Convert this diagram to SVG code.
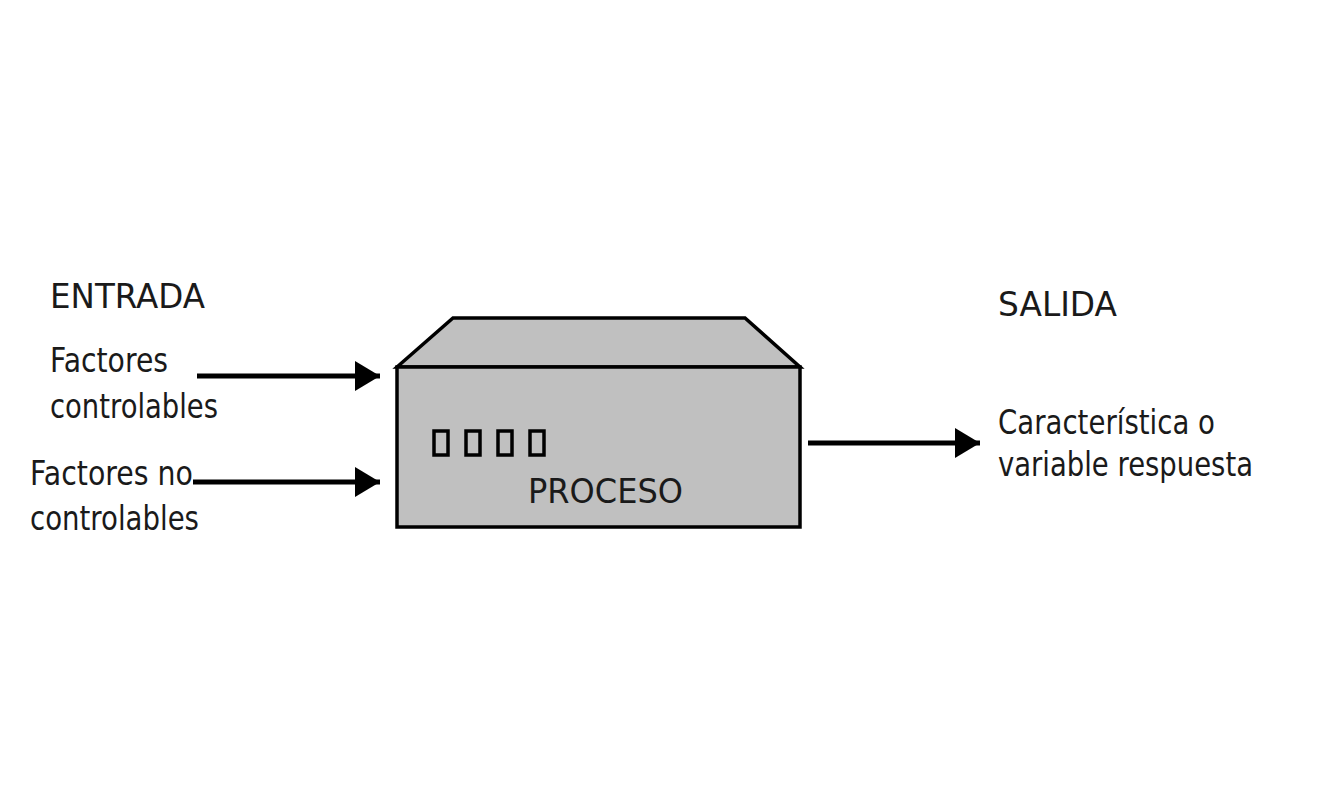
<svg xmlns="http://www.w3.org/2000/svg" width="1344" height="806" viewBox="0 0 1344 806">
<defs>
<style>
text{font-family:"DejaVu Sans","Liberation Sans",sans-serif;font-size:33px;fill:#1a1a1a}
.ln{stroke:#000;stroke-width:5;fill:none}
.box{fill:#c0c0c0;stroke:#000;stroke-width:3.5;stroke-linejoin:miter}
.sq{fill:none;stroke:#000;stroke-width:3.5}
</style>
<marker id="ah" markerUnits="userSpaceOnUse" markerWidth="26" markerHeight="30" refX="25" refY="15" orient="auto">
<path d="M0,0 L25,15 L0,30 Z" fill="#000"/>
</marker>
</defs>
<rect width="1344" height="806" fill="#fff"/>
<g id="entrada-labels">
<text x="50" y="308" textLength="155" lengthAdjust="spacingAndGlyphs">ENTRADA</text>
</g>
<g id="factores-controlables">
<text x="50" y="372" textLength="118" lengthAdjust="spacingAndGlyphs">Factores</text>
<text x="50" y="418" textLength="168" lengthAdjust="spacingAndGlyphs">controlables</text>
</g>
<g id="factores-no-controlables">
<text x="30" y="485" textLength="163" lengthAdjust="spacingAndGlyphs">Factores no</text>
<text x="30" y="530" textLength="169" lengthAdjust="spacingAndGlyphs">controlables</text>
</g>
<g id="proceso">
<path class="box" d="M397,367 L453,318 L745,318 L800,367 Z"/>
<rect class="box" x="397" y="367" width="403" height="160"/>
<rect class="sq" x="434" y="431" width="14" height="24"/>
<rect class="sq" x="466" y="431" width="14" height="24"/>
<rect class="sq" x="498" y="431" width="14" height="24"/>
<rect class="sq" x="530" y="431" width="14" height="24"/>
<text x="528" y="503" textLength="155" lengthAdjust="spacingAndGlyphs">PROCESO</text>
</g>
<g id="salida">
<text x="998" y="316" textLength="119" lengthAdjust="spacingAndGlyphs">SALIDA</text>
<text x="998" y="434" textLength="217" lengthAdjust="spacingAndGlyphs">Característica o</text>
<text x="998" y="476" textLength="255" lengthAdjust="spacingAndGlyphs">variable respuesta</text>
</g>
<g id="connectors">
<line class="ln" x1="197" y1="376" x2="380" y2="376" marker-end="url(#ah)"/>
<line class="ln" x1="193" y1="482" x2="380" y2="482" marker-end="url(#ah)"/>
<line class="ln" x1="808" y1="443" x2="980" y2="443" marker-end="url(#ah)"/>
</g>
</svg>
